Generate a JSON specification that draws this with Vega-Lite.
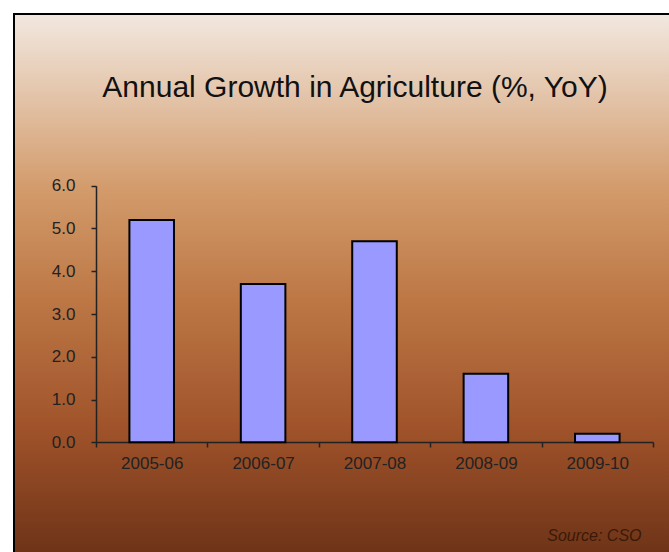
{
  "$schema": "https://vega.github.io/schema/vega-lite/v6.json",
  "width": 660,
  "height": 545,
  "autosize": "none",
  "padding": {"left": 14, "top": 14, "right": 0, "bottom": 0},
  "background": "white",
  "view": {
    "stroke": "black",
    "strokeWidth": 2,
    "fill": {
      "gradient": "linear",
      "x1": 0, "y1": 0, "x2": 0, "y2": 1,
      "stops": [
        {"offset": 0, "color": "#f2e8e0"},
        {"offset": 0.08, "color": "#ead5c3"},
        {"offset": 0.32, "color": "#d39b6b"},
        {"offset": 0.52, "color": "#bd7846"},
        {"offset": 0.76, "color": "#a0532a"},
        {"offset": 1, "color": "#6c3217"}
      ]
    }
  },
  "title": {
    "text": "Annual Growth in Agriculture (%, YoY)",
    "font": "Liberation Sans",
    "fontSize": 30,
    "fontWeight": "normal",
    "color": "#111111",
    "anchor": "middle",
    "frame": "group",
    "orient": "top",
    "baseline": "alphabetic",
    "offset": 0,
    "dy": 113,
    "dx": 11
  },
  "data": {
    "values": [
      {"year": "2005-06", "growth": 5.2},
      {"year": "2006-07", "growth": 3.7},
      {"year": "2007-08", "growth": 4.7},
      {"year": "2008-09", "growth": 1.6},
      {"year": "2009-10", "growth": 0.2}
    ]
  },
  "mark": {"type": "bar", "fill": "#9999ff", "stroke": "black", "strokeWidth": 2, "width": {"band": 0.4}},
  "encoding": {
    "x": {
      "field": "year",
      "type": "nominal",
      "sort": null,
      "scale": {"range": [82, 639], "paddingInner": 0, "paddingOuter": 0},
      "axis": {
        "title": "Source: CSO",
        "titleFont": "Liberation Sans",
        "titleFontStyle": "italic",
        "titleFontWeight": "normal",
        "titleFontSize": 16,
        "titleColor": "#3a1a08",
        "titleAnchor": "end",
        "titleAlign": "right",
        "titleBaseline": "alphabetic",
        "titleX": 627,
        "titleY": 98,
        "offset": -117,
        "labelAngle": 0,
        "labelFont": "Liberation Sans",
        "labelFontSize": 17,
        "labelColor": "#222222",
        "labelPadding": 8,
        "tickBand": "extent",
        "tickSize": 5,
        "tickColor": "#222222",
        "domainColor": "#222222",
        "domainWidth": 1.5,
        "tickWidth": 1.5,
        "grid": false
      }
    },
    "y": {
      "field": "growth",
      "type": "quantitative",
      "scale": {"domain": [0, 6], "range": [428.3, 171.7], "nice": false},
      "axis": {
        "title": null,
        "offset": -82,
        "values": [0, 1, 2, 3, 4, 5, 6],
        "format": ".1f",
        "labelFont": "Liberation Sans",
        "labelFontSize": 17,
        "labelColor": "#222222",
        "labelPadding": 16,
        "tickSize": 5,
        "tickColor": "#222222",
        "domainColor": "#222222",
        "domainWidth": 1.5,
        "tickWidth": 1.5,
        "grid": false
      }
    }
  }
}
